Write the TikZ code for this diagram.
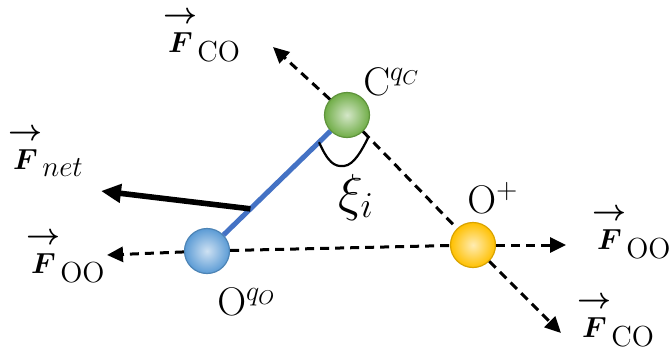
\documentclass[tikz,border=0pt]{standalone}
\usepackage{fix-cm}
\usepackage{amsmath,amssymb}
\usepackage{tikz}
\usetikzlibrary{arrows.meta,positioning,calc}
\definecolor{AtomGreen}{RGB}{112,173,71}
\definecolor{AtomBlue}{RGB}{91,155,213}
\definecolor{AtomOrange}{RGB}{255,192,0}
\definecolor{BondBlue}{RGB}{68,114,196}
\newcommand{\forcevec}[1]{${\overset{\raisebox{1.5pt}{\resizebox{17pt}{!}{$\boldsymbol{\rightarrow}$}}}{\boldsymbol{F}}}_{\textstyle #1}$}

\begin{document}
\begin{tikzpicture}[
    x=0.5pt, y=-0.5pt,
    atom/.style={circle, minimum size=22.5pt, inner sep=0pt, line width=0.6pt, draw=#1!85!black, inner color=#1!30!white, outer color=#1},
    atomlabel/.style={inner sep=0pt, anchor=base west, font=\fontsize{20}{24}\selectfont},
    forcelabel/.style={inner sep=0pt, anchor=base west, font=\fontsize{14.5}{17}\selectfont},
    dashline/.style={dash pattern=on 4.5pt off 3pt, line width=1.5pt},
    force/.style={dashline, -{Triangle[length=8pt,width=7.5pt]}},
    bond/.style={line width=2.5pt, draw=BondBlue},
    netforce/.style={line width=2.8pt, -{Triangle[length=10pt,width=9pt]}},
    anglearc/.style={line width=1.1pt}
]
    \useasboundingbox (0,0) rectangle (671,354);

    % atoms
    \node[atom=AtomGreen] (C) at (347,115) {};
    \node[atom=AtomBlue] (Oq) at (207,251) {};
    \node[atom=AtomOrange] (Op) at (473,245) {};

    % free ends of the force arrows
    \coordinate (coUp) at (273,47);
    \coordinate (coDown) at (561,333);
    \coordinate (ooLeft) at (107,255);
    \coordinate (ooRight) at (566,245);
    \coordinate (netTip) at (101,191);
    \coordinate (netBase) at ($(Oq)!0.31!(C)$);
    \coordinate (arcL) at ($(C)!0.2!(Oq)$);
    \coordinate (arcR) at ($(C)!0.17!(Op)$);

    \draw[bond] (Oq) -- (C);
    \draw[force] (C) -- (coUp);
    \draw[dashline] (C) -- (Op);
    \draw[force] (Op) -- (coDown);
    \draw[dashline] (Oq) -- (Op);
    \draw[force] (Oq) -- (ooLeft);
    \draw[force] (Op) -- (ooRight);
    \draw[netforce] (netBase) -- (netTip);
    \draw[anglearc] (arcL) .. controls (328,162) and (334,167) .. (344,166) .. controls (354,165) and (362,150) .. (arcR);

    % labels
    \node[forcelabel] (lblCOup) at (163,52) {\forcevec{\mathrm{CO}}};
    \node[forcelabel] (lblNet) at (8,169) {\forcevec{net}};
    \node[forcelabel] (lblOOleft) at (26,273) {\forcevec{\mathrm{OO}}};
    \node[forcelabel] (lblOOright) at (592,249) {\forcevec{\mathrm{OO}}};
    \node[forcelabel] (lblCOdown) at (577,337) {\forcevec{\mathrm{CO}}};
    \node[atomlabel] (lblC) at (363,95) {$\mathrm{C}^{q_C}$};
    \node[atomlabel] (lblOp) at (467,213) {$\mathrm{O}^{+}$};
    \node[atomlabel] (lblOq) at (217,315) {$\mathrm{O}^{q_O}$};
    \node[atomlabel, font=\fontsize{26}{30}\selectfont] (lblXi) at (338,210) {$\xi_i$};
\end{tikzpicture}
\end{document}
